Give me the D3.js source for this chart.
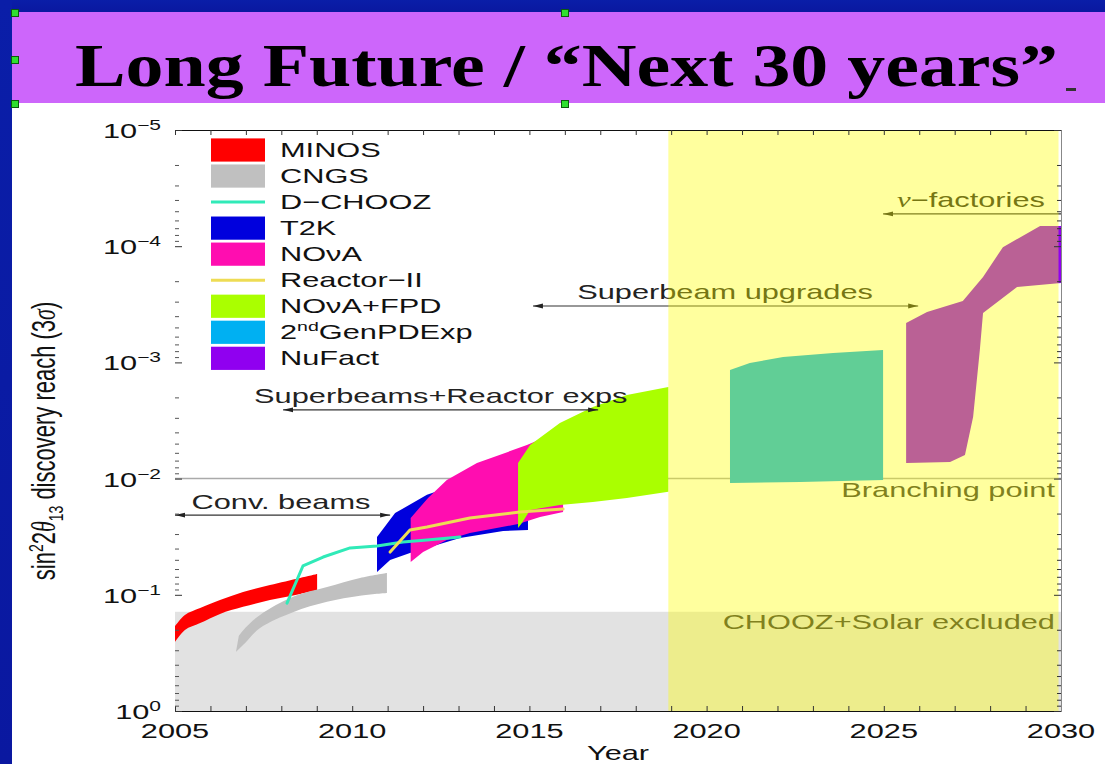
<!DOCTYPE html>
<html>
<head>
<meta charset="utf-8">
<title>Long Future / Next 30 years</title>
<script src="https://cdn.jsdelivr.net/npm/d3@7/dist/d3.min.js"></script>
<style>
  html, body { margin: 0; padding: 0; background: #ffffff; }
  svg { display: block; }
  text { font-family: "Liberation Sans", Arial, Helvetica, sans-serif; }
</style>
</head>
<body>
<svg id="slide" width="1105" height="764"></svg>
<script>
// sin^2 2θ13 discovery reach (3σ) versus year, one band per experiment.
// Points are [year, sin^2 2θ13]; "upper" is the edge with the smaller (better) reach.

const yearTickLabels = [2005, 2010, 2015, 2020, 2025, 2030];
const decadeExponents = [-5, -4, -3, -2, -1, 0];

const minosUpper = [[2005.0,0.186],[2005.28,0.149],[2005.71,0.130],[2006.27,0.111],[2006.92,0.0946],[2007.68,0.0824],[2008.53,0.0716],[2009.01,0.0662]];
const minosLower = [[2005.0,0.255],[2005.28,0.201],[2005.71,0.175],[2006.27,0.146],[2006.92,0.127],[2007.68,0.111],[2008.53,0.0984],[2009.01,0.091]];

const cngsUpper = [[2006.80,0.226],[2006.98,0.193],[2007.40,0.149],[2008.33,0.104],[2009.29,0.0857],[2010.22,0.0716],[2010.98,0.0649]];
const cngsLower = [[2006.72,0.310],[2006.98,0.260],[2007.40,0.193],[2008.33,0.141],[2009.29,0.115],[2010.22,0.102],[2010.98,0.0966]];

const dchoozReach = [[2008.16,0.118],[2008.61,0.0565],[2009.18,0.0473],[2009.94,0.0395],[2010.70,0.0380],[2011.43,0.0352],[2012.11,0.0337],[2013.04,0.0318]];

const t2kUpper = [[2010.70,0.0318],[2011.21,0.0198],[2012.11,0.0138],[2013.32,0.0103],[2014.96,0.0072]];
const t2kLower = [[2010.70,0.0637],[2011.07,0.0502],[2011.63,0.0437],[2013.04,0.0324],[2014.26,0.0282],[2014.96,0.0277]];

const novaUpper = [[2011.65,0.0218],[2012.14,0.0147],[2012.67,0.0103],[2013.52,0.00735],[2014.93,0.00514],[2015.95,0.0038]];
const novaLower = [[2011.65,0.0522],[2012.00,0.0429],[2012.67,0.0337],[2013.32,0.0294],[2014.68,0.0246],[2015.30,0.0214],[2015.95,0.0194]];

const reactor2Reach = [[2011.07,0.0429],[2011.63,0.0277],[2012.11,0.0261],[2013.32,0.0218],[2014.73,0.0194],[2015.95,0.0183]];

const novaFpdUpper = [[2014.68,0.00735],[2015.02,0.00514],[2015.86,0.00333],[2016.79,0.00242],[2017.75,0.00191],[2018.92,0.00163]];
const novaFpdLower = [[2014.68,0.0266],[2014.79,0.0241],[2015.02,0.0186],[2015.86,0.0169],[2016.79,0.0159],[2017.75,0.0147],[2018.92,0.0130]];

const genPdUpper = [[2020.66,0.00116],[2021.22,0.00101],[2022.16,0.000899],[2023.57,0.00083],[2024.98,0.000781]];
const genPdLower = [[2020.66,0.0109],[2022.64,0.0107],[2024.98,0.0103]];

const nufactUpper = [[2025.63,4.58e-4],[2026.22,3.68e-4],[2027.23,2.96e-4],[2027.80,1.84e-4],[2028.36,1.02e-4],[2029.41,6.70e-5],[2030.0,6.70e-5]];
const nufactLower = [[2025.63,7.35e-3],[2026.87,7.19e-3],[2027.29,6.27e-3],[2027.52,2.95e-3],[2027.71,7.81e-4],[2027.80,3.76e-4],[2028.76,2.24e-4],[2030.0,2.07e-4]];

const branchingPoint = 0.01;
const choozSolarLimit = 0.14;
const longTermStart = 2018.92;
const longTermEnd = 2029.93;

const spanLabels = ["Conv. beams", "Superbeams+Reactor exps", "Superbeam upgrades", "\u2212factories"];
const spanStart = [2005.0, 2008.05, 2015.10, 2024.98];
const spanEnd = [2011.07, 2016.94, 2025.97, 2030.0];
const spanLevel = [0.0206, 0.00256, 3.27e-4, 5.28e-5];
const spanTextCenter = [2007.99, 2012.50, 2020.52, 2027.46];

const legendNames = ["MINOS", "CNGS", "D\u2212CHOOZ", "T2K", "NO\u03bdA", "Reactor\u2212II", "NO\u03bdA+FPD", "2ndGenPDExp", "NuFact"];

// ---------------------------------------------------------------------------
const W = 1105, H = 764;
const svg = d3.select("#slide");
const SX = 1.5;            // the chart artwork is horizontally stretched on the slide
const FONT = 20.5;

// slide frame
svg.append("rect").attr("x", 0).attr("y", 0).attr("width", W).attr("height", H).attr("fill", "#ffffff");
const blue = svg.append("defs").append("linearGradient").attr("id", "frameBlue")
  .attr("x1", 0).attr("y1", 0).attr("x2", 0).attr("y2", 1);
blue.append("stop").attr("offset", 0).attr("stop-color", "#0a1ea8");
blue.append("stop").attr("offset", 1).attr("stop-color", "#0a18a0");
svg.append("rect").attr("x", 0).attr("y", 0).attr("width", W).attr("height", 12).attr("fill", "url(#frameBlue)");
svg.append("rect").attr("x", 0).attr("y", 0).attr("width", 12).attr("height", H).attr("fill", "url(#frameBlue)");

// title band
svg.append("rect").attr("x", 12).attr("y", 12).attr("width", W - 12).attr("height", 91).attr("fill", "#cd66fb");
svg.append("text")
  .attr("x", 75).attr("y", 86)
  .attr("textLength", 983).attr("lengthAdjust", "spacingAndGlyphs")
  .style("font-family", "'Liberation Serif', 'Times New Roman', serif")
  .style("font-weight", "bold").style("font-size", "62px").attr("fill", "#000")
  .text("Long Future / \u201cNext 30 years\u201d");
svg.append("rect").attr("x", 1066).attr("y", 88).attr("width", 10).attr("height", 3).attr("fill", "#333");

// selection handles of the title box
[[15, 13], [565, 13], [15, 60], [15, 104], [565, 104]].forEach(([hx, hy]) => {
  svg.append("rect").attr("x", hx - 3.5).attr("y", hy - 3.5).attr("width", 7).attr("height", 7)
    .attr("fill", "#2fe02f").attr("stroke", "#0c5a0c").attr("stroke-width", 1);
});

// ---------------------------------------------------------------------------
const plot = { left: 175, right: 1061, top: 130, bottom: 711 };
const x = d3.scaleLinear().domain([2005, 2030]).range([plot.left, plot.right]);
const y = d3.scaleLog().domain([1e-5, 1]).range([plot.top, plot.bottom]);

const g = svg.append("g");

function stretchedText(parent, px, py, anchor) {
  return parent.append("text")
    .attr("transform", `translate(${px},${py}) scale(${SX},1)`)
    .attr("text-anchor", anchor)
    .style("font-size", FONT + "px");
}

// CHOOZ + solar excluded region
g.append("rect")
  .attr("x", x(2005)).attr("width", x(2030) - x(2005))
  .attr("y", y(choozSolarLimit)).attr("height", y(1) - y(choozSolarLimit))
  .attr("fill", "#e2e2e2");

// branching point level
g.append("line")
  .attr("x1", x(2005)).attr("x2", x(2030))
  .attr("y1", y(branchingPoint)).attr("y2", y(branchingPoint))
  .attr("stroke", "#aaaaaa").attr("stroke-width", 1.5);

const experiments = [
  { name: legendNames[0], color: "#ff0000", upper: minosUpper, lower: minosLower, curve: d3.curveCatmullRom },
  { name: legendNames[1], color: "#c0c0c0", upper: cngsUpper, lower: cngsLower, curve: d3.curveCatmullRom },
  { name: legendNames[2], color: "#30eab8", reach: dchoozReach },
  { name: legendNames[3], color: "#0000dd", upper: t2kUpper, lower: t2kLower, curve: d3.curveLinear },
  { name: legendNames[4], color: "#ff0db0", upper: novaUpper, lower: novaLower, curve: d3.curveLinear },
  { name: legendNames[5], color: "#eedc55", reach: reactor2Reach },
  { name: legendNames[6], color: "#aaff00", upper: novaFpdUpper, lower: novaFpdLower, curve: d3.curveLinear },
  { name: legendNames[7], color: "#00b0f2", upper: genPdUpper, lower: genPdLower, curve: d3.curveLinear },
  { name: legendNames[8], color: "#9000f0", upper: nufactUpper, lower: nufactLower, curve: d3.curveLinear }
];

function bandPath(upper, lower, curve) {
  const line = d3.line().x(d => x(d[0])).y(d => y(d[1])).curve(curve);
  const top = line(upper);
  const bottom = line(lower.slice().reverse());
  return top + "L" + bottom.slice(1) + "Z";
}

experiments.filter(e => e.upper).forEach(e => {
  g.append("path").attr("d", bandPath(e.upper, e.lower, e.curve)).attr("fill", e.color);
});

const reachLine = d3.line().x(d => x(d[0])).y(d => y(d[1])).curve(d3.curveLinear);
experiments.filter(e => e.reach).forEach(e => {
  g.append("path").attr("d", reachLine(e.reach))
    .attr("fill", "none").attr("stroke", e.color).attr("stroke-width", 3)
    .attr("stroke-linejoin", "round").attr("stroke-linecap", "round");
});

// period annotations with arrows
const defs = svg.select("defs");
defs.append("marker").attr("id", "headEnd").attr("viewBox", "0 0 10 6")
  .attr("refX", 10).attr("refY", 3).attr("markerWidth", 10).attr("markerHeight", 6)
  .attr("markerUnits", "userSpaceOnUse").attr("orient", "auto")
  .append("path").attr("d", "M0,0.6L10,3L0,5.4Z").attr("fill", "#222");
defs.append("marker").attr("id", "headStart").attr("viewBox", "0 0 10 6")
  .attr("refX", 0).attr("refY", 3).attr("markerWidth", 10).attr("markerHeight", 6)
  .attr("markerUnits", "userSpaceOnUse").attr("orient", "auto")
  .append("path").attr("d", "M10,0.6L0,3L10,5.4Z").attr("fill", "#222");

spanLabels.forEach((label, i) => {
  const ly = y(spanLevel[i]);
  const ln = g.append("line")
    .attr("x1", x(spanStart[i])).attr("x2", x(spanEnd[i]))
    .attr("y1", ly).attr("y2", ly)
    .attr("stroke", "#333").attr("stroke-width", 1.2)
    .attr("marker-start", "url(#headStart)");
  if (i < 3) ln.attr("marker-end", "url(#headEnd)");
  const t = stretchedText(g, x(spanTextCenter[i]), ly - 6.5, "middle").attr("fill", "#222");
  if (i === 3) {
    t.append("tspan").style("font-family", "'Liberation Serif', 'Times New Roman', serif")
      .style("font-style", "italic").text("\u03bd");
  }
  t.append("tspan").text(label);
});

// region labels
stretchedText(g, x(2029.83), y(branchingPoint) + 18.5, "end").attr("fill", "#333").text("Branching point");
stretchedText(g, x(2029.83), y(choozSolarLimit) + 17.5, "end").attr("fill", "#333").text("CHOOZ+Solar excluded");

// long-term period shading (translucent, tints everything underneath)
g.append("rect")
  .attr("x", x(longTermStart)).attr("width", x(longTermEnd) - x(longTermStart))
  .attr("y", y(1e-5)).attr("height", y(1) - y(1e-5))
  .attr("fill", "#ffff00").attr("fill-opacity", 0.38);

// ---------------------------------------------------------------------------
// axes
const allYears = d3.range(2005, 2031);
const minorValues = [];
decadeExponents.slice(0, -1).forEach(e => { for (let m = 2; m <= 9; m++) minorValues.push(m * Math.pow(10, e)); });
const majorValues = decadeExponents.map(e => Math.pow(10, e));

function styleAxis(sel, domainColor) {
  sel.selectAll(".tick line").attr("stroke", "#333");
  sel.select(".domain").attr("stroke", domainColor);
}

const axB = g.append("g").attr("transform", `translate(0,${plot.bottom})`)
  .call(d3.axisBottom(x).tickValues(allYears).tickSize(-5).tickSizeOuter(0).tickFormat(""));
styleAxis(axB, "#111");
const axT = g.append("g").attr("transform", `translate(0,${plot.top})`)
  .call(d3.axisTop(x).tickValues(allYears).tickSize(-5).tickSizeOuter(0).tickFormat(""));
styleAxis(axT, "#111");

const axL1 = g.append("g").attr("transform", `translate(${plot.left},0)`)
  .call(d3.axisLeft(y).tickValues(minorValues).tickSize(-4).tickFormat(""));
axL1.select(".domain").remove();
axL1.selectAll(".tick line").attr("stroke", "#555");
const axL2 = g.append("g").attr("transform", `translate(${plot.left},0)`)
  .call(d3.axisLeft(y).tickValues(majorValues).tickSize(-7).tickFormat(""));
axL2.select(".domain").remove();
axL2.selectAll(".tick line").attr("stroke", "#333");

const axR1 = g.append("g").attr("transform", `translate(${plot.right},0)`)
  .call(d3.axisRight(y).tickValues(minorValues).tickSize(-4).tickSizeOuter(0).tickFormat(""));
styleAxis(axR1, "#888");
const axR2 = g.append("g").attr("transform", `translate(${plot.right},0)`)
  .call(d3.axisRight(y).tickValues(majorValues).tickSize(-7).tickSizeOuter(0).tickFormat(""));
styleAxis(axR2, "#888");

// tick labels
yearTickLabels.forEach(yr => {
  stretchedText(g, x(yr), plot.bottom + 27, "middle").attr("fill", "#111").text(yr);
});
decadeExponents.forEach(e => {
  const t = stretchedText(g, plot.left - 14, y(Math.pow(10, e)) + 8, "end").attr("fill", "#111");
  t.append("tspan").text("10");
  t.append("tspan").attr("dy", -8).style("font-size", "14px").text(e < 0 ? "\u2212" + (-e) : String(e));
});

stretchedText(g, (plot.left + plot.right) / 2, plot.bottom + 49, "middle").attr("fill", "#111").text("Year");

// y-axis title (rotated, glyph height stretched like the rest of the artwork)
const yt = g.append("text")
  .attr("transform", `translate(55,441) scale(${SX},1) rotate(-90)`)
  .attr("text-anchor", "middle").attr("fill", "#111").style("font-size", "22px");
yt.append("tspan").text("sin");
yt.append("tspan").attr("dy", -8).style("font-size", "14px").text("2");
yt.append("tspan").attr("dy", 8).text("2");
yt.append("tspan").style("font-family", "'Liberation Serif', serif").style("font-style", "italic").text("\u03b8");
yt.append("tspan").attr("dy", 5).style("font-size", "14px").text("13");
yt.append("tspan").attr("dy", -5).text(" discovery reach (3");
yt.append("tspan").style("font-family", "'Liberation Serif', serif").style("font-style", "italic").text("\u03c3");
yt.append("tspan").text(")");

// ---------------------------------------------------------------------------
// legend
const legend = g.append("g");
const legendTop = 150, legendStep = 26.04;
experiments.forEach((e, i) => {
  const cy = legendTop + i * legendStep;
  if (e.upper) {
    legend.append("rect").attr("x", 211).attr("y", cy - 11.6).attr("width", 54).attr("height", 23.2).attr("fill", e.color);
  } else {
    legend.append("line").attr("x1", 211).attr("x2", 265).attr("y1", cy).attr("y2", cy)
      .attr("stroke", e.color).attr("stroke-width", 3);
  }
  const t = stretchedText(legend, 280, cy + 7, "start").attr("fill", "#111");
  if (e.name.startsWith("2nd")) {
    t.append("tspan").text("2");
    t.append("tspan").attr("dy", -8).style("font-size", "13px").text("nd");
    t.append("tspan").attr("dy", 8).text(e.name.slice(3));
  } else {
    t.text(e.name);
  }
});
</script>
</body>
</html>
